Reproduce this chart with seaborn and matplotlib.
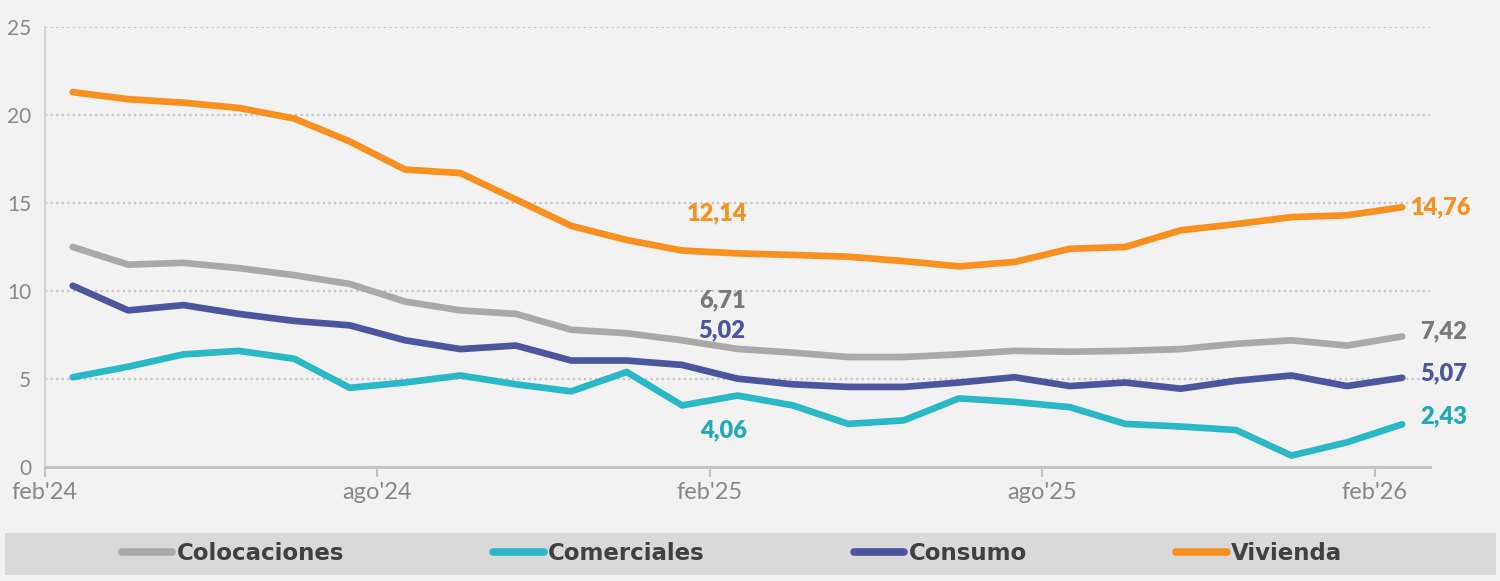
import pandas as pd
import numpy as np
import matplotlib.pyplot as plt
import seaborn as sns
from matplotlib.patches import Rectangle

# meses feb'24 .. feb'26 (25 puntos)
meses = ["feb'24", "mar'24", "abr'24", "may'24", "jun'24", "jul'24", "ago'24", "sep'24",
         "oct'24", "nov'24", "dic'24", "ene'25", "feb'25", "mar'25", "abr'25", "may'25",
         "jun'25", "jul'25", "ago'25", "sep'25", "oct'25", "nov'25", "dic'25", "ene'26", "feb'26"]

colocaciones = [12.5, 11.5, 11.6, 11.3, 10.9, 10.4, 9.4, 8.9, 8.7, 7.8, 7.6, 7.2, 6.71,
                6.5, 6.25, 6.25, 6.4, 6.6, 6.55, 6.6, 6.7, 7.0, 7.2, 6.9, 7.42]
comerciales = [5.1, 5.7, 6.4, 6.6, 6.15, 4.5, 4.8, 5.2, 4.7, 4.3, 5.4, 3.5, 4.06,
               3.5, 2.45, 2.65, 3.9, 3.7, 3.4, 2.45, 2.3, 2.1, 0.65, 1.4, 2.43]
consumo = [10.3, 8.9, 9.2, 8.7, 8.3, 8.05, 7.2, 6.7, 6.9, 6.05, 6.05, 5.8, 5.02,
           4.7, 4.55, 4.55, 4.8, 5.1, 4.6, 4.8, 4.45, 4.9, 5.2, 4.6, 5.07]
vivienda = [21.3, 20.9, 20.7, 20.4, 19.8, 18.5, 16.9, 16.7, 15.2, 13.7, 12.9, 12.3, 12.14,
            12.05, 11.95, 11.7, 11.4, 11.65, 12.4, 12.5, 13.45, 13.8, 14.2, 14.3, 14.76]

series = ["Colocaciones", "Comerciales", "Consumo", "Vivienda"]
colores = {"Colocaciones": "#a9a9a9", "Comerciales": "#2bb8c6",
           "Consumo": "#4d559e", "Vivienda": "#f7901e"}
colores_txt = {"Colocaciones": "#7a7a7a", "Comerciales": "#22a9b6",
               "Consumo": "#4d559e", "Vivienda": "#f7901e"}

df = pd.DataFrame({"mes": np.arange(len(meses)),
                   "Colocaciones": colocaciones, "Comerciales": comerciales,
                   "Consumo": consumo, "Vivienda": vivienda})
largo = df.melt(id_vars="mes", value_vars=series, var_name="serie", value_name="valor")

sns.set_theme(style="white")
plt.rcParams['font.family'] = ['Lato', 'DejaVu Sans']

fig = plt.figure(figsize=(15, 5.81), dpi=100, facecolor="#f2f2f2")
ax = fig.add_axes([0.030, 0.1962, 0.9233, 0.7573])
ax.set_facecolor("#f2f2f2")

sns.lineplot(data=largo, x="mes", y="valor", hue="serie", palette=colores,
             hue_order=series, linewidth=4.8, ax=ax, legend=False, sort=False)
for l in ax.lines:
    l.set_solid_joinstyle("round")
    l.set_solid_capstyle("round")

ax.set_xlim(-0.5, 24.5)
ax.set_ylim(0, 25)
ax.set_yticks([0, 5, 10, 15, 20, 25])
ax.set_xticks([-0.5, 5.5, 11.5, 17.5, 23.5])
ax.set_xticklabels([meses[0], meses[6], meses[12], meses[18], meses[24]])
ax.set_xlabel("")
ax.set_ylabel("")
for yv in [5, 10, 15, 20, 25]:
    ax.axhline(yv, color="#c4c4c4", lw=1.6, ls=(0, (1, 1.5)), zorder=0)

for s in ["top", "right"]:
    ax.spines[s].set_visible(False)
ax.spines["left"].set_color("#d6d6d6")
ax.spines["left"].set_linewidth(1.5)
ax.spines["bottom"].set_color("#c2c2c2")
ax.spines["bottom"].set_linewidth(2.2)
ax.tick_params(axis="x", length=7, width=1.5, color="#c2c2c2", labelsize=17,
               labelcolor="#888888", pad=4, direction="out", bottom=True)
ax.tick_params(axis="y", length=0, labelsize=15, labelcolor="#888888", pad=10)

# etiquetas feb'25
i_mid = 12
mid_off = {"Vivienda": (-15, 29), "Colocaciones": (-11, 35),
           "Consumo": (-11, 35), "Comerciales": (-10, -25)}
for s in series:
    v = df.loc[i_mid, s]
    ax.annotate(f"{v:.2f}".replace(".", ","), xy=(i_mid, v), xytext=mid_off[s],
                textcoords="offset points", ha="center", va="center",
                fontsize=17, fontweight="heavy", color=colores_txt[s])

# etiquetas finales feb'26
i_fin = 24
fin_off = {"Vivienda": (6, 0), "Colocaciones": (13, 4),
           "Consumo": (13, 3), "Comerciales": (13, 6)}
for s in series:
    v = df.loc[i_fin, s]
    ax.annotate(f"{v:.2f}".replace(".", ","), xy=(i_fin, v), xytext=fin_off[s],
                textcoords="offset points", ha="left", va="center",
                fontsize=17, fontweight="heavy", color=colores_txt[s])

# banda de leyenda
fig.patches.append(Rectangle((0.003, 0.010), 0.994, 0.073, transform=fig.transFigure,
                             facecolor="#d9d9d9", edgecolor="none", zorder=0))
handles = [plt.Line2D([], [], color=colores[s], lw=5.5) for s in series]
leg = fig.legend(handles, series, loc="center", bbox_to_anchor=(0.488, 0.047),
                 ncol=4, frameon=False, handlelength=2.2, handletextpad=0.2,
                 columnspacing=6.5,
                 prop={"family": "DejaVu Sans", "size": 16.5, "weight": "bold"})
for t in leg.get_texts():
    t.set_color("#404040")

plt.savefig("out.png", dpi=100, facecolor=fig.get_facecolor())
plt.close()
